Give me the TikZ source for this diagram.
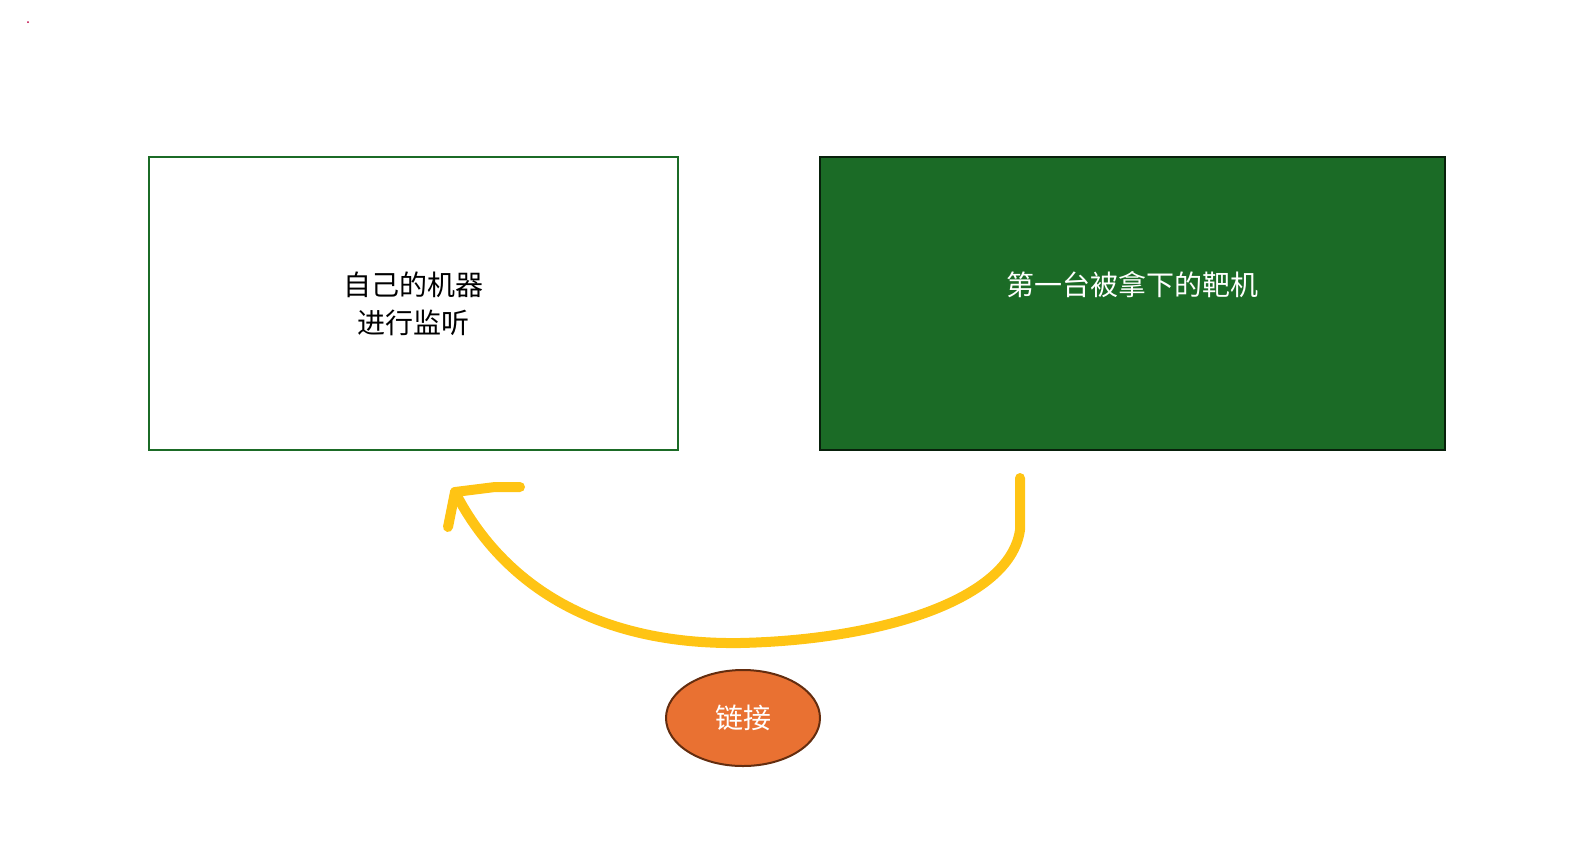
\documentclass[tikz,border=0pt]{standalone}
\usepackage{fontspec}
\newfontfamily\cjk{Noto Sans CJK SC}
\usetikzlibrary{positioning,shapes.geometric}
\definecolor{boxgreen}{RGB}{27,107,38}
\definecolor{penyellow}{RGB}{255,196,20}
\definecolor{linkorange}{RGB}{233,113,50}
\definecolor{linkbrown}{RGB}{100,45,15}
\begin{document}
\begin{tikzpicture}[x=0.5pt,y=-0.5pt]
	\tikzset{
		hostbox/.style={
			draw=boxgreen,
			line width=1.2pt,
			minimum width=264.5pt,
			minimum height=146.5pt,
			inner sep=0pt,
			font=\cjk\fontsize{14}{19}\selectfont,
			align=center
		},
		pen/.style={
			draw=penyellow,
			line width=5pt,
			line cap=round,
			line join=round
		}
	}
	\useasboundingbox (0,0) rectangle (1570,842);
	\fill[purple] (28,22) circle [radius=1];

	% ======= two machines =======
	\node[hostbox] (own) at (413.5,303.5) {};
	\node[font=\cjk\fontsize{14}{19}\selectfont,align=center] (ownlabel) at (413.5,304) {自己的机器\\进行监听};
	\node[hostbox,fill=boxgreen,draw=black!70!boxgreen,minimum width=312.5pt] (target) at (1132.5,303.5) {};
	\node[font=\cjk\fontsize{14}{19}\selectfont,text=white] (targetlabel) at (1132.5,285) {第一台被拿下的靶机};

	% ======= hand drawn arrow =======
	\coordinate (start) at (1020,478);
	\coordinate (tip) at (455,492);
	\coordinate (barbA) at (520,487);
	\coordinate (barbB) at (448,527);
	\draw[pen] (start) -- (1020,530) .. controls (1010,600) and (880,640) .. (740,643)
		.. controls (590,645) and (500,580) .. (tip);
	\draw[pen] (barbA) -- (495,487) -- (tip) -- (barbB);

	% ======= link label =======
	\node[ellipse,draw=linkbrown,line width=1pt,fill=linkorange,minimum width=77pt,minimum height=48pt,
		font=\cjk\fontsize{14}{18}\selectfont,text=white] (link) at (743,718) {链接};
\end{tikzpicture}
\end{document}
